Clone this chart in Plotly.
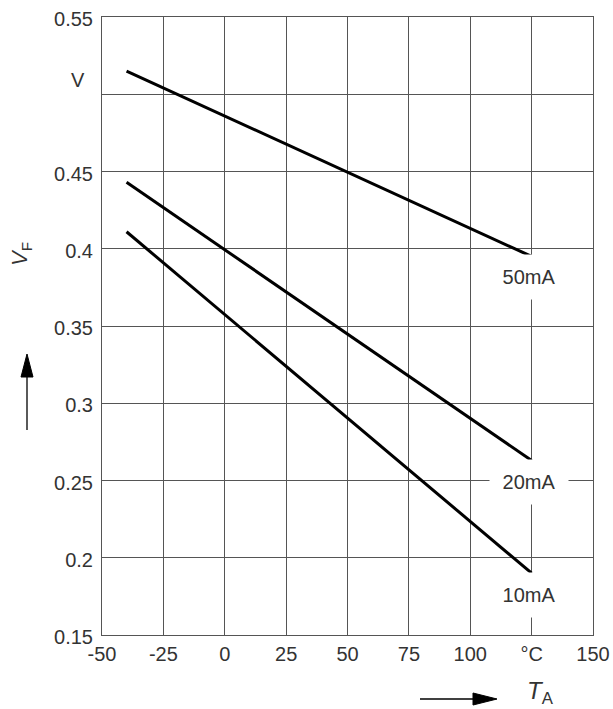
import plotly.graph_objects as go

# Data
temps = [-40, 125]
vf_50mA = [0.515, 0.395]
vf_20mA = [0.443, 0.263]
vf_10mA = [0.411, 0.190]
series = [("50mA", vf_50mA, 0.382), ("20mA", vf_20mA, 0.249), ("10mA", vf_10mA, 0.176)]

x_ticks = [-50, -25, 0, 25, 50, 75, 100, 125, 150]
x_labels = ["-50", "-25", "0", "25", "50", "75", "100", "°C", "150"]
y_ticks = [0.15, 0.2, 0.25, 0.3, 0.35, 0.4, 0.45, 0.5, 0.55]
y_labels = ["0.15", "0.2", "0.25", "0.3", "0.35", "0.4", "0.45", "", "0.55"]

FONT = "Liberation Sans, Arial, sans-serif"
TXT = "#333333"
GRID = "#555555"

W, H = 613, 709
L, R, T, B = 102, 20, 17, 74
PW, PH = W - L - R, H - T - B


def px(x):
    return (x - L) / PW


def py(y):
    return (H - B - y) / PH


fig = go.Figure()
for name, vals, _ in series:
    fig.add_trace(go.Scatter(x=temps, y=vals, mode="lines", name=name,
                             line=dict(color="black", width=3), showlegend=False,
                             hoverinfo="skip"))

annotations = []
for name, _, ly in series:
    annotations.append(dict(x=125, y=ly, xref="x", yref="y", text=name, showarrow=False,
                            xanchor="center", yanchor="middle",
                            font=dict(family=FONT, size=20, color=TXT), bgcolor="white",
                            width=58, height=24, borderpad=10, xshift=-3))

annotations += [
    dict(x=px(78), y=py(80), xref="paper", yref="paper", text="V", showarrow=False,
         xanchor="center", yanchor="middle",
         font=dict(family=FONT, size=20, color=TXT)),
    dict(x=px(21), y=py(254), xref="paper", yref="paper", text="<i>V</i><sub>F</sub>",
         showarrow=False, textangle=-90, xanchor="center", yanchor="middle",
         font=dict(family=FONT, size=22, color=TXT)),
    dict(x=px(540), y=py(692), xref="paper", yref="paper", text="<i>T</i><sub>A</sub>",
         showarrow=False, xanchor="center", yanchor="middle",
         font=dict(family=FONT, size=24, color=TXT)),
]

shapes = [
    # vertical arrow
    dict(type="line", xref="paper", yref="paper", x0=px(27), x1=px(27), y0=py(430), y1=py(376),
         line=dict(color="black", width=1.3)),
    dict(type="path", xref="paper", yref="paper",
         path=f"M {px(27)} {py(354)} L {px(21)} {py(377)} L {px(33)} {py(377)} Z",
         fillcolor="black", line=dict(color="black", width=1)),
    # horizontal arrow
    dict(type="line", xref="paper", yref="paper", x0=px(420), x1=px(475), y0=py(699), y1=py(699),
         line=dict(color="black", width=1.3)),
    dict(type="path", xref="paper", yref="paper",
         path=f"M {px(497)} {py(699)} L {px(473)} {py(693)} L {px(473)} {py(705)} Z",
         fillcolor="black", line=dict(color="black", width=1)),
]

axis_common = dict(showgrid=True, gridcolor=GRID, gridwidth=1, showline=True,
                   linecolor=GRID, linewidth=1, mirror=True, zeroline=False,
                   automargin=False, ticks="", fixedrange=True,
                   tickfont=dict(family=FONT, size=20, color=TXT))

fig.update_layout(
    width=W, height=H,
    margin=dict(l=L, r=R, t=T, b=B, autoexpand=False),
    paper_bgcolor="white", plot_bgcolor="white",
    hovermode=False,
    xaxis=dict(range=[-50, 150], tickmode="array", tickvals=x_ticks, ticktext=x_labels,
               ticklabelstandoff=1, **axis_common),
    yaxis=dict(range=[0.15, 0.55], tickmode="array", tickvals=y_ticks, ticktext=y_labels,
               ticklabelstandoff=4, ticklabelshift=2, **axis_common),
    annotations=annotations,
    shapes=shapes,
)

fig.write_html("out.html", config={"displayModeBar": False},
               post_script="document.body.style.margin='0';document.body.style.overflow='hidden';")
